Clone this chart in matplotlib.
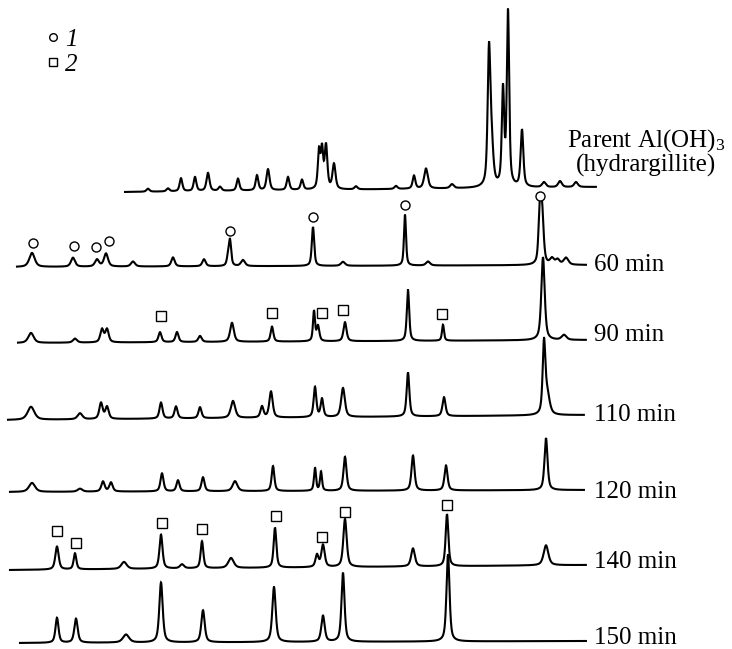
import numpy as np
import matplotlib
matplotlib.use("Agg")
import matplotlib.pyplot as plt
from matplotlib.lines import Line2D

plt.rcParams['font.family'] = ['Liberation Serif', 'DejaVu Serif']
plt.rcParams['mathtext.fontset'] = 'custom'
plt.rcParams['mathtext.rm'] = 'Liberation Serif'
plt.rcParams['mathtext.it'] = 'Liberation Serif:italic'

# ---------------- data (2theta in deg, intensity in arbitrary units) ----------------
trace_labels = ["Parent Al(OH)$_3$\n(hydrargillite)", "60 min", "90 min", "110 min",
                "120 min", "140 min", "150 min"]

# trace range and baseline (offset) at start / end
x_start = [23.125, 9.625, 9.75, 8.5, 8.75, 8.75, 10.0]
x_end = [82.0, 80.75, 80.75, 80.5, 80.5, 80.75, 80.75]
base_start = [457, 382, 306, 229, 157, 79, 6]
base_end = [462, 384, 309, 234, 159, 84, 8]
label_y = [497, 384, 314, 234, 157, 87, 11]

# peaks: position, height, width (FWHM)
pos_parent = [26.0, 28.5, 30.125, 31.875, 33.5, 35.0, 37.25, 39.625, 41.0, 43.5, 45.25, 47.375, 47.75,
              48.25, 49.25, 52.0, 57.0, 59.25, 60.75, 64.0, 68.625, 68.95, 70.375, 71.0, 72.75, 75.5,
              77.5, 79.5]
hgt_parent = [3, 3, 13, 14, 18, 4, 12, 15, 21, 13, 10, 37, 38, 43, 25, 3, 3, 13, 20, 4, 132, 38, 95, 174,
              57, 5, 6, 5]
wid_parent = [0.45, 0.45, 0.4, 0.4, 0.45, 0.45, 0.4, 0.4, 0.45, 0.4, 0.4, 0.35, 0.35, 0.4, 0.45, 0.45,
              0.45, 0.4, 0.55, 0.55, 0.4, 0.5, 0.35, 0.35, 0.4, 0.55, 0.55, 0.55]

pos_60 = [11.5, 16.625, 19.625, 20.75, 24.125, 29.125, 33.0, 36.0, 36.25, 37.875, 46.625, 50.375, 58.125,
          61.0, 74.95, 75.25, 76.5, 77.2, 78.25]
hgt_60 = [14, 9, 7, 13, 5, 9, 7, 8, 25, 6, 39, 4, 51, 4, 45, 55, 6, 5, 7]
wid_60 = [0.8, 0.6, 0.6, 0.6, 0.6, 0.5, 0.5, 0.35, 0.35, 0.6, 0.35, 0.6, 0.3, 0.6, 0.35, 0.45, 0.6, 0.6,
          0.7]

pos_90 = [11.375, 16.875, 20.25, 20.875, 27.5, 29.625, 32.5, 36.5, 41.5, 46.75, 47.25, 50.625, 58.5,
          62.875, 75.375, 78.0]
hgt_90 = [10, 4, 13, 13, 10, 10, 6, 19, 15, 30, 15, 19, 51, 16, 83, 5]
wid_90 = [0.8, 0.6, 0.5, 0.5, 0.45, 0.45, 0.5, 0.55, 0.4, 0.3, 0.4, 0.45, 0.35, 0.3, 0.5, 0.7]

pos_110 = [11.375, 17.5, 20.125, 20.875, 27.625, 29.5, 32.5, 36.625, 40.25, 41.375, 46.875, 47.75,
           50.375, 58.5, 63.0, 75.5, 75.9]
hgt_110 = [13, 6, 16, 12, 16, 12, 11, 17, 11, 26, 30, 18, 29, 44, 19, 69, 20]
wid_110 = [1.0, 0.7, 0.5, 0.5, 0.45, 0.45, 0.45, 0.65, 0.45, 0.5, 0.4, 0.4, 0.55, 0.4, 0.45, 0.4, 0.7]

pos_120 = [11.5, 17.5, 20.375, 21.375, 27.75, 29.75, 32.875, 36.875, 41.625, 46.875, 47.625, 50.625,
           59.125, 63.25, 75.75]
hgt_120 = [9, 3, 10, 9, 18, 11, 14, 10, 25, 23, 19, 34, 35, 25, 52]
wid_120 = [0.9, 0.7, 0.5, 0.5, 0.45, 0.45, 0.45, 0.7, 0.4, 0.3, 0.3, 0.45, 0.45, 0.45, 0.45]

pos_140 = [14.625, 16.875, 23.0, 27.625, 30.25, 32.75, 36.375, 41.875, 47.125, 47.875, 50.625, 59.125,
           63.375, 75.75]
hgt_140 = [23, 16, 7, 34, 4, 27, 10, 40, 12, 22, 48, 18, 52, 20]
wid_140 = [0.5, 0.4, 0.8, 0.45, 0.6, 0.4, 0.8, 0.4, 0.45, 0.5, 0.5, 0.55, 0.4, 0.7]

pos_150 = [14.625, 17.0, 23.25, 27.625, 32.875, 41.75, 47.875, 50.375, 63.5]
hgt_150 = [25, 24, 8, 60, 32, 55, 26, 69, 87]
wid_150 = [0.45, 0.5, 0.9, 0.5, 0.5, 0.5, 0.5, 0.45, 0.45]

peak_pos = [pos_parent, pos_60, pos_90, pos_110, pos_120, pos_140, pos_150]
peak_hgt = [hgt_parent, hgt_60, hgt_90, hgt_110, hgt_120, hgt_140, hgt_150]
peak_wid = [wid_parent, wid_60, wid_90, wid_110, wid_120, wid_140, wid_150]

# phase markers: 1 (circles) on 60 min, 2 (squares) on 90 and 140 min
circ_pos_60 = [11.625, 16.75, 19.5, 21.125, 36.25, 46.625, 58.125, 75.0]
circ_hgt_60 = [24, 21, 20, 26, 35, 49, 61, 69]
sq_pos_90 = [27.625, 41.5, 47.75, 50.375, 62.75]
sq_hgt_90 = [26, 29, 28, 31, 27]
sq_pos_140 = [14.625, 17.0, 27.75, 32.75, 42.0, 47.75, 50.625, 63.375]
sq_hgt_140 = [39, 26, 46, 39, 52, 30, 55, 61]

legend_labels = ["1", "2"]


def pattern(x, pos, hgt, wid):
    y = np.zeros_like(x)
    for p, h, w in zip(pos, hgt, wid):
        u = (x - p) / w
        lor = 1.0 / (1.0 + 4.0 * u ** 2)
        gau = np.exp(-4.0 * np.log(2) * u ** 2)
        y += h * (0.6 * lor + 0.4 * gau)
    return y


fig = plt.figure(figsize=(7.32, 6.49), dpi=100)
ax = fig.add_axes([0, 0, 1, 1])
ax.set_xlim(7.5, 99.0)
ax.set_ylim(0, 649)
ax.axis('off')

for i in range(len(trace_labels)):
    x = np.arange(x_start[i], x_end[i], 0.02)
    base = np.linspace(base_start[i], base_end[i], x.size)
    y = base + pattern(x, peak_pos[i], peak_hgt[i], peak_wid[i])
    ax.plot(x, y, color='black', lw=1.5, solid_joinstyle='miter')


def on_base(i, xs):
    return np.interp(xs, [x_start[i], x_end[i]], [base_start[i], base_end[i]])


mk = dict(ls='none', mfc='white', mec='black', mew=1.0, zorder=3)
ax.plot(circ_pos_60, np.array(circ_hgt_60) + on_base(1, circ_pos_60), marker='o', ms=6.5, **mk)
ax.plot(sq_pos_90, np.array(sq_hgt_90) + on_base(2, sq_pos_90), marker='s', ms=6.5, **mk)
ax.plot(sq_pos_140, np.array(sq_hgt_140) + on_base(5, sq_pos_140), marker='s', ms=6.5, **mk)

# labels
for i in range(1, len(trace_labels)):
    ax.text(81.75, label_y[i], trace_labels[i], fontsize=18, ha='left', va='center')
ax.text(88.25, label_y[0], trace_labels[0], fontsize=18, ha='center', va='center', linespacing=1.0)

handles = [Line2D([], [], marker='o', ls='none', mfc='white', mec='black', mew=1.0, ms=5.5),
           Line2D([], [], marker='s', ls='none', mfc='white', mec='black', mew=1.0, ms=5.5)]
leg = ax.legend(handles, legend_labels, loc='upper left', bbox_to_anchor=(0.062, 0.956),
                bbox_transform=fig.transFigure, frameon=False, borderpad=0, borderaxespad=0,
                handlelength=0.6, handletextpad=0.2, labelspacing=0.08,
                prop=dict(family='Liberation Serif', style='italic', size=18))

fig.savefig("out.png", dpi=100)
